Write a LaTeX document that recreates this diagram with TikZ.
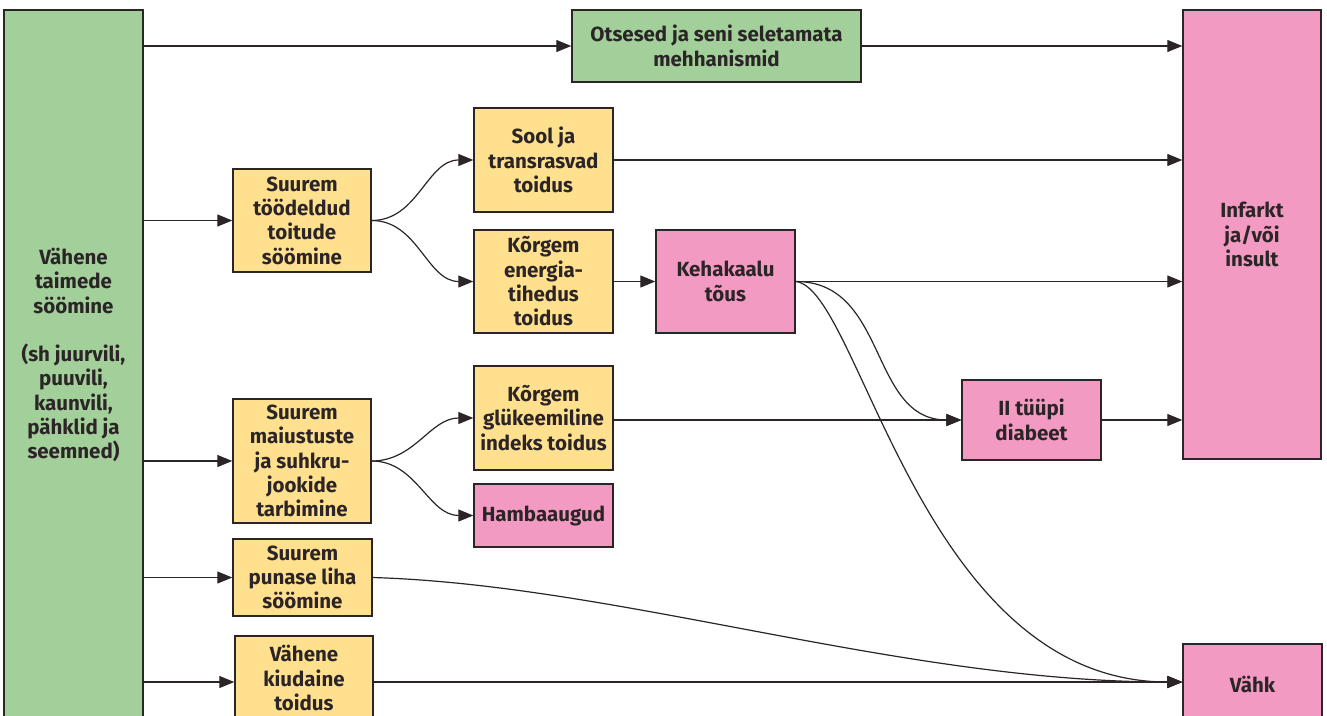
\documentclass[tikz,border=0pt]{standalone}
\usepackage{fontspec}
\setmainfont{Fira Sans}
\usetikzlibrary{arrows.meta}
\definecolor{cgreen}{HTML}{A3CF9A}
\definecolor{cyellow}{HTML}{FFE08F}
\definecolor{cpink}{HTML}{F39AC3}
\definecolor{cline}{HTML}{2B2527}
\tikzset{
  box/.style={draw=cline, line width=1.4pt, rectangle, inner sep=0pt, align=center,
    font=\fontsize{20.5}{24.3}\selectfont\bfseries, text=cline},
  gbox/.style={box, fill=cgreen},
  ybox/.style={box, fill=cyellow},
  pbox/.style={box, fill=cpink},
  conn/.style={draw=cline, line width=1.2pt, -{Triangle[length=15pt,width=12pt]}},
  txt/.style={inner sep=0pt, align=center, font=\fontsize{20.5}{24.3}\selectfont\bfseries, text=cline}
}
\begin{document}
\begin{tikzpicture}[x=1pt,y=-1pt]
\useasboundingbox (0,0) rectangle (1327,715);
\clip (0,0) rectangle (1327,715);
% nodes
\node[gbox, minimum width=139pt, minimum height=714pt] (green) at (73.5,367) {};
\node[txt] (greentext) at (73.5,355) {Vähene\\taimede\\söömine\\[24pt](sh juurvili,\\puuvili,\\kaunvili,\\pähklid ja\\seemned)};
\node[gbox, minimum width=289pt, minimum height=72pt] (ots) at (716.5,46) {Otsesed ja seni seletamata\\mehhanismid};
\node[ybox, minimum width=138pt, minimum height=103pt] (ts) at (302,220.5) {Suurem\\töödeldud\\toitude\\söömine};
\node[ybox, minimum width=139pt, minimum height=104pt] (sool) at (543.5,160) {Sool ja\\transrasvad\\toidus};
\node[ybox, minimum width=139pt, minimum height=103pt] (energ) at (543.5,281.5) {Kõrgem\\energia-\\tihedus\\toidus};
\node[pbox, minimum width=139pt, minimum height=103pt] (keha) at (725.5,281.5) {Kehakaalu\\tõus};
\node[pbox, minimum width=138pt, minimum height=449pt] (inf) at (1252,234.5) {Infarkt\\ja/või\\insult};
\node[ybox, minimum width=138pt, minimum height=124pt] (mai) at (302,461) {Suurem\\maiustuste\\ja suhkru-\\jookide\\tarbimine};
\node[ybox, minimum width=139pt, minimum height=104pt] (gly) at (543.5,418) {Kõrgem\\glükeemiline\\indeks toidus};
\node[pbox, minimum width=139pt, minimum height=63pt] (hamb) at (543.5,515.5) {Hambaaugud};
\node[pbox, minimum width=139pt, minimum height=80pt] (dia) at (1031.5,420) {II tüüpi\\diabeet};
\node[ybox, minimum width=139pt, minimum height=77pt] (pun) at (302.5,577.5) {Suurem\\punase liha\\söömine};
\node[ybox, minimum width=138pt, minimum height=84pt] (kiud) at (304,678) {Vähene\\kiudaine\\toidus};
\node[pbox, minimum width=139pt, minimum height=80pt] (vahk) at (1252.5,684) {Vähk};
\coordinate (vk) at (0,682);
% connectors
\draw[conn] (green.east |- ots.west) -- (ots.west);
\draw[conn] (ots.east) -- (inf.west |- ots.east);
\draw[conn] (sool.east) -- (inf.west |- sool.east);
\draw[conn] (keha.east) -- (inf.west |- keha.east);
\draw[conn] (dia.east) -- (inf.west |- dia.east);
\draw[conn] (green.east |- ts.west) -- (ts.west);
\draw[conn] (ts.east) to[out=0,in=180] (sool.west);
\draw[conn] (ts.east) to[out=0,in=180] (energ.west);
\draw[conn] (energ.east) -- (keha.west);
\draw[conn] (keha.east) to[out=0,in=180,looseness=1.1] (dia.west);
\draw[conn] (keha.east) .. controls (860,288) and (920,682) .. (vahk.west |- vk);
\draw[conn] (green.east |- mai.west) -- (mai.west);
\draw[conn] (mai.east) to[out=0,in=180] (gly.west);
\draw[conn] (mai.east) to[out=0,in=180] (hamb.west);
\draw[conn] (gly.east |- dia.west) -- (dia.west);
\draw[conn] (green.east |- pun.west) -- (pun.west);
\draw[conn] (pun.east) .. controls (620,585) and (900,682) .. (vahk.west |- vk);
\draw[conn] (green.east |- vk) -- (kiud.west |- vk);
\draw[conn] (kiud.east |- vk) -- (vahk.west |- vk);
\end{tikzpicture}
\end{document}
